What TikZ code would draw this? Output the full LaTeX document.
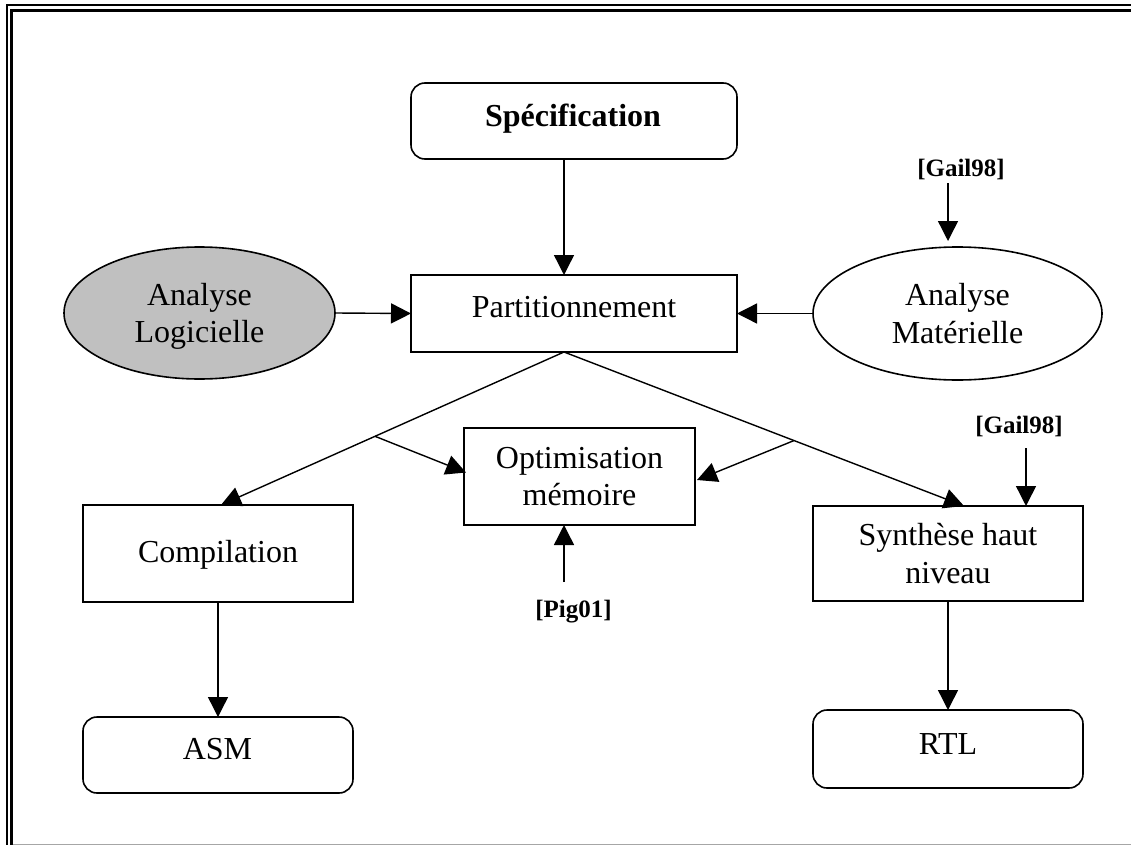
\documentclass[tikz,border=0pt]{standalone}
\usepackage{fontspec}
\setmainfont{Liberation Serif}
\usetikzlibrary{arrows.meta,shapes.geometric,calc}
\definecolor{softgray}{HTML}{C0C0C0}
\begin{document}
\begin{tikzpicture}[x=1pt,y=-1pt,
  every node/.style={font=\fontsize{32}{37.5}\selectfont, inner sep=0pt, outer sep=0pt},
  box/.style={draw, line width=1.6pt, rectangle},
  rbox/.style={box, rounded corners=14pt},
  oval/.style={draw, line width=1.6pt, ellipse},
  reflbl/.style={font=\fontsize{25}{30}\selectfont\bfseries},
  arr/.style={line width=1.4pt, -{Triangle[length=20pt,width=20pt]}},
]
\useasboundingbox (0,0) rectangle (1131,845);
% frame
\draw[line width=2pt] (1131,5) -- (7,5) -- (7,845);
\draw[line width=3pt] (1131,10.5) -- (11,10.5) -- (11,845);
\draw[gray!70, line width=1pt] (12.5,844.3) -- (1131,844.3);

% nodes
\node[rbox, minimum width=326pt, minimum height=76pt] (spec) at (574,121) {};
\node[font=\fontsize{32}{37.5}\selectfont\bfseries, anchor=base] (specT) at (573,127) {Spécification};

\node[box, minimum width=326pt, minimum height=77pt] (part) at (574,313.5) {};
\node[anchor=base] (partT) at (574,317) {Partitionnement};

\node[oval, fill=softgray, minimum width=271pt, minimum height=132pt, align=center, text depth=0pt] (logA) at (199.5,313) {Analyse\\Logicielle};
\node[oval, minimum width=289pt, minimum height=133pt, align=center] (matA) at (957.5,313.5) {Analyse\\Matérielle};

\node[box, minimum width=231pt, minimum height=97pt, align=center] (opt) at (579.5,476.5) {Optimisation\\mémoire};

\node[box, minimum width=270pt, minimum height=97pt] (comp) at (218,553.5) {};
\node[anchor=base] (compT) at (218,562) {Compilation};

\node[box, minimum width=270pt, minimum height=95pt, align=center] (syn) at (948,553.5) {Synthèse haut\\niveau};

\node[rbox, minimum width=270pt, minimum height=76pt] (asm) at (218,755) {};
\node[anchor=base] (asmT) at (217.5,759) {ASM};

\node[rbox, minimum width=270pt, minimum height=78pt] (rtl) at (948,749) {};
\node[anchor=base] (rtlT) at (948,754) {RTL};

\node[reflbl, anchor=base] (g1) at (961,177) {[Gail98]};
\node[reflbl, anchor=base] (g2) at (1019,433) {[Gail98]};
\node[reflbl, anchor=base] (pig) at (573.5,617) {[Pig01]};

% helper coordinates
\coordinate (sx) at (564,0);
\coordinate (apex) at (part.south -| sx);
\coordinate (cl) at ($(comp.north)+(3,0)$);
\coordinate (cr) at ($(syn.north)+(16,0)$);
\coordinate (bl) at ($(apex)!0.551!(cl)$);
\coordinate (br) at ($(apex)!0.575!(cr)$);
\coordinate (g1a) at (948,183);
\coordinate (g2a) at (1026,448);
\coordinate (p0) at (564,582);

% connectors
\draw[arr] (spec.south -| sx) -- (part.north -| sx);
\draw[arr] (logA.east) -- (part.west);
\draw[arr] (matA.west) -- (part.east);
\draw[arr] (apex) -- (cl);
\draw[arr] (apex) -- (cr);
\draw[arr] (bl) -- ($(opt.west)+(2,-4)$);
\draw[arr] (br) -- ($(opt.east)+(2,3.5)$);
\draw[arr] (p0) -- (opt.south -| p0);
\draw[arr] (g1a) -- ($(matA.north -| g1a)+(0,-6)$);
\draw[arr] (g2a) -- (syn.north -| g2a);
\draw[arr] (comp.south) -- (asm.north);
\draw[arr] (syn.south) -- (rtl.north);
\end{tikzpicture}
\end{document}
